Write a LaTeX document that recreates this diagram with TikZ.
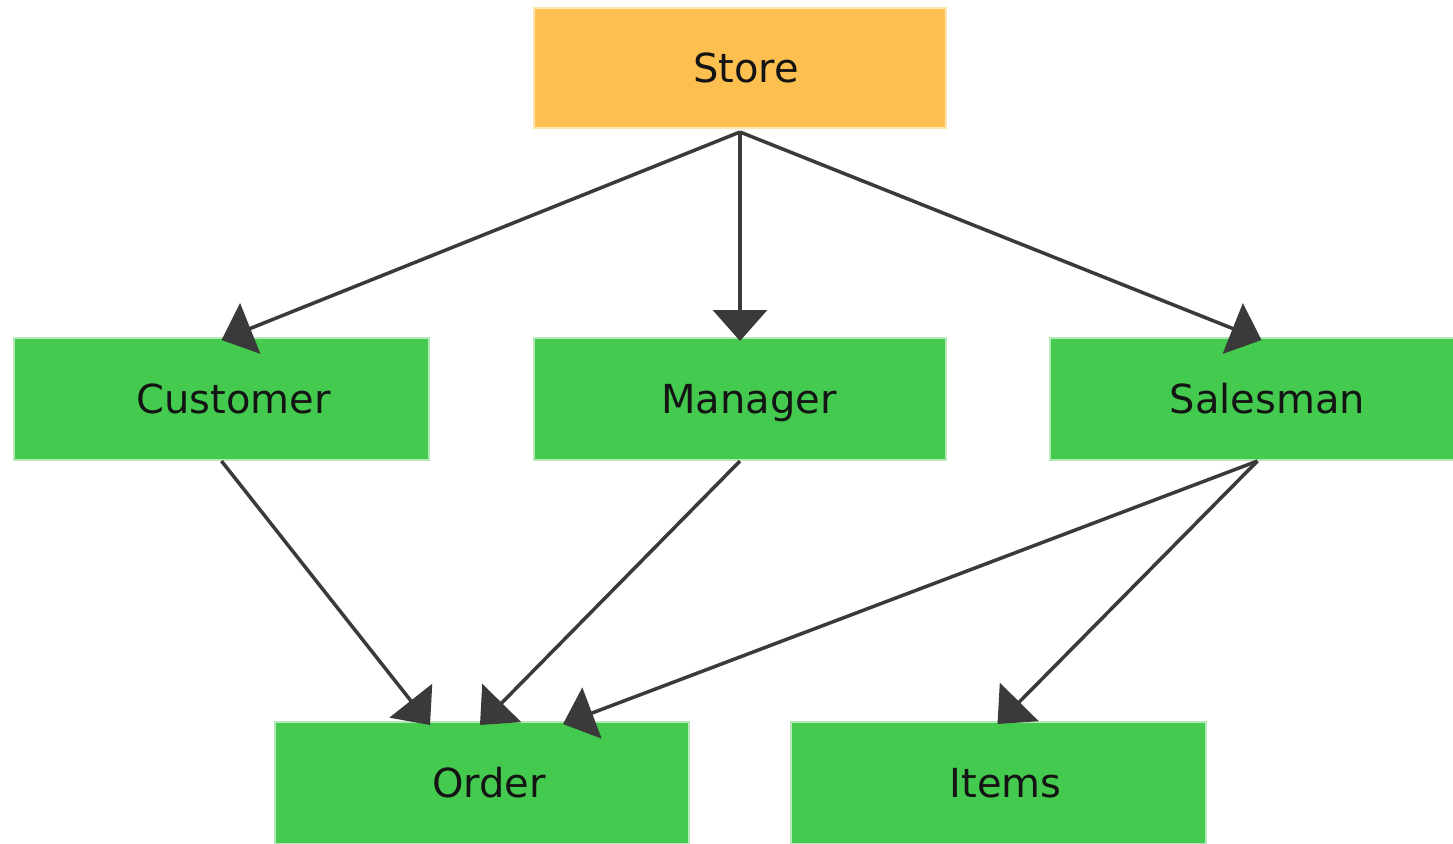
\documentclass[tikz,border=0pt]{standalone}
\usepackage{fontspec}
\setmainfont{DejaVu Sans}
\usetikzlibrary{arrows.meta,calc}
\definecolor{storefill}{HTML}{FDBF4F}
\definecolor{storerim}{HTML}{FFE3B0}
\definecolor{entfill}{HTML}{44CB4F}
\definecolor{entrim}{HTML}{B4E8B7}
\definecolor{linkcol}{HTML}{3A3A3A}
\definecolor{labelcol}{HTML}{141414}
\tikzset{
  box/.style={rectangle, draw, line width=1pt, inner sep=0pt,
    font=\fontsize{20pt}{24pt}\selectfont, text=labelcol,
    text height=14.6pt, text depth=0pt},
  rootbox/.style={box, fill=storefill, draw=storerim},
  entbox/.style={box, fill=entfill, draw=entrim},
  link/.style={draw=linkcol, line width=1.75pt,
    -{Triangle[length=15.5pt, width=27pt]}}
}
\begin{document}
\begin{tikzpicture}[x=0.5pt, y=-0.5pt]
  \useasboundingbox (0,0) rectangle (1453,843);

  % entity boxes
  \node[rootbox, minimum width=206pt, minimum height=60pt] (store)    at (740,68)     {\hspace{6pt}Store};
  \node[entbox,  minimum width=207.5pt, minimum height=61pt] (customer) at (221.5,399) {\hspace{12pt}Customer};
  \node[entbox,  minimum width=206pt, minimum height=61pt] (manager)  at (740,399)    {\hspace{9pt}Manager};
  \node[entbox,  minimum width=207.5pt, minimum height=61pt] (salesman) at (1257.5,399) {\hspace{10pt}Salesman};
  \node[entbox,  minimum width=207pt, minimum height=61pt] (order)    at (482,783)    {\hspace{7pt}Order};
  \node[entbox,  minimum width=207.5pt, minimum height=61pt] (items)  at (998.5,783)  {\hspace{7pt}Items};

  % relations
  \draw[link] ($(store.south)+(0,3)$) -- ($(customer.north)+(0,3)$);
  \draw[link] ($(store.south)+(0,3)$) -- ($(manager.north)+(0,4)$);
  \draw[link] ($(store.south)+(0,3)$) -- ($(salesman.north)+(4,3)$);
  \draw[link] (customer.south) -- ($(order.north)+(-52,4)$);
  \draw[link] (manager.south) -- ($(order.north)+(-2,4)$);
  \draw[link] (salesman.south) -- ($(order.north)+(81,3)$);
  \draw[link] (salesman.south) -- ($(items.north)+(-1,3)$);
\end{tikzpicture}
\end{document}
